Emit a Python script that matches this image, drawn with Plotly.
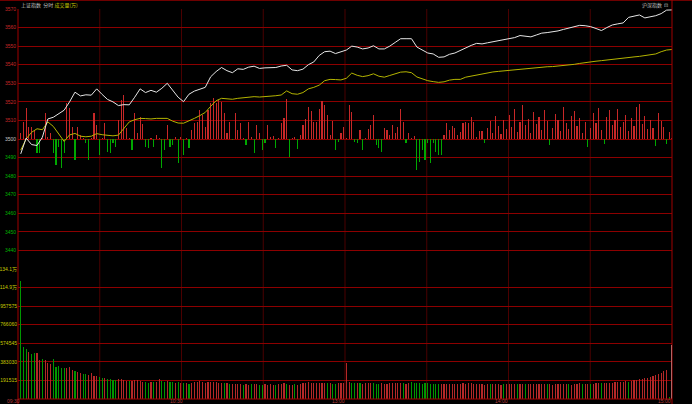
import plotly.graph_objects as go

# ---------------- data ----------------
line_minutes = list(range(0, 241, 2))
index_price = [
    3492, 3500.5, 3497, 3496.5, 3501, 3510.8, 3511.7, 3513.4, 3515.5, 3520,
    3525.2, 3523.2, 3523.8, 3523.6, 3527, 3524, 3521.3, 3520, 3518, 3518.5,
    3518.4, 3522.5, 3527, 3525, 3526.2, 3525.2, 3527.3, 3530, 3526.5, 3522.5,
    3520.1, 3524.1, 3525.8, 3527, 3527.8, 3533.5, 3536.3, 3538.5, 3536.8, 3535.7,
    3537.8, 3537.5, 3538.7, 3539.2, 3538, 3538.3, 3538.3, 3538.5, 3539.3, 3539.7,
    3537.2, 3536.8, 3537.6, 3540, 3541.5, 3545, 3547, 3547.3, 3546, 3546.8,
    3547.9, 3550, 3549.5, 3548.5, 3549, 3550.2, 3548.5, 3548.5, 3550, 3552,
    3554, 3554, 3554, 3549.5, 3548, 3546.3, 3545.8, 3544, 3544.2, 3545.6,
    3546.3, 3547.7, 3549.4, 3550.4, 3551.5, 3551.2, 3551.8, 3552.3, 3553, 3553.4,
    3554, 3554.6, 3555.7, 3555.5, 3555, 3556, 3557, 3557.3, 3557.6, 3558.2,
    3559, 3559.8, 3560.6, 3561.2, 3561, 3560.5, 3559.5, 3558.4, 3560, 3561.4,
    3562, 3562.5, 3565.5, 3566.3, 3566.8, 3565.2, 3565.6, 3566.4, 3567.5, 3569.4,
    3569.5,
]
lead_price = [
    3494, 3500, 3503.6, 3505.5, 3505, 3509.2, 3506.8, 3502.5, 3498.7, 3502.2,
    3503, 3501.5, 3501.2, 3501.5, 3502.9, 3502.3, 3502.2, 3501.7, 3502.1, 3505.5,
    3509.2, 3510.4, 3511.1, 3511, 3510.8, 3511.1, 3511.1, 3511.1, 3509.6, 3508.6,
    3508.5, 3509.6, 3511.1, 3512.6, 3514.3, 3517.6, 3520.6, 3521.9, 3521.6, 3521.4,
    3521.9, 3522.2, 3522.3, 3522.8, 3522.6, 3522.7, 3523, 3523.3, 3523.7, 3525.9,
    3524.4, 3524.1, 3525, 3527, 3527.8, 3529, 3531.4, 3532.1, 3532, 3531.8,
    3532.7, 3535.5, 3534.3, 3533.6, 3534.1, 3535.1, 3533.8, 3533.3, 3534.2, 3535.2,
    3536, 3536.2, 3535.7, 3533.4, 3532.4, 3531.4, 3530.9, 3530.5, 3530.8, 3531.7,
    3532.1, 3532.1, 3533.3, 3533.9, 3534.7, 3535.1, 3535.6, 3536.1, 3536.4, 3536.7,
    3537, 3537.3, 3537.6, 3537.9, 3538.2, 3538.5, 3538.8, 3538.9, 3539, 3539.2,
    3539.4, 3539.8, 3540.2, 3540.7, 3541.2, 3541.6, 3541.9, 3542.2, 3542.6, 3542.9,
    3543.3, 3543.6, 3543.9, 3544.2, 3544.5, 3544.8, 3545.1, 3545.8, 3547, 3547.9,
    3548.2,
]

bar_minutes = list(range(241))
strength = [
    3.1, 9.3, 16.6, 6.6, 6.6, 4.8, -7.5, -7.5, 0.5, 13.8,
    1.2, 3.1, -7.5, -14, -4.1, -15.8, -7.7, 19.2, 16.5, 6.6,
    -11.3, 6.6, 2.2, 0.5, -2.3, -11.3, 0.3, 13.8, 7.5, -8.6,
    0.4, 8.5, -6.8, -7.7, -2.3, -4.1, 10.2, 21, 23.7, 5.8,
    0.5, -5.9, 13.8, 3, 12, 8.1, -4.1, -5, 0.3, -4.1,
    2.2, 0.4, -15.8, -5.9, 7.5, -4.1, -3.2, 0.9, -13.1, 1.2,
    -8.6, 0.3, -5, 4.8, 8.5, 9.3, 15.6, 12.9, 6.6, 15.6,
    19.2, 21.9, 19.2, 21, 20.1, 13.8, 3.1, 9.3, -0.5, 13.8,
    4.8, 8.5, 0.4, -3.2, 9.3, 1.2, -7.4, 7.5, 3.1, -5.9,
    -2, 7.5, 1.2, 1.6, -5, 0.3, 8.8, 11.1, 21.5, -9.5,
    0.4, 0.9, -5.5, 2.2, 7.5, 10.6, 17.1, 15.2, 9.3, 9.3,
    16, 20.5, 18.3, 12.9, 2.2, 9.9, -5.9, -1.5, 3.1, 6.6,
    0.3, 18.3, 14.7, -1.5, -2, 4.8, -5.9, 0.3, 5.2, 7.5,
    12.9, -3.2, -5, -6.8, 5.8, 4.8, 2.2, 7.5, 3.1, 6.6,
    16, 9.3, -2, 3.1, 0.3, 1.6, -16.7, -12.2, -5.9, -11.3,
    -2.3, -13.1, -2.3, -6.8, -8.6, -8.6, 2.2, 8.5, 4.8, 7,
    5.8, 2.2, 3.9, 8.8, 9.3, 8.8, 12, 9.3, 1.2, 4.5,
    4.5, -2.0, 6.0, 9.5, 3.2, 12.5, 7.0, 2.5, 10.0, 5.5,
    13.0, 6.5, 16.0, 4.0, 9.0, 18.5, 7.5, 11.0, 3.5, 14.5,
    8.0, 12.0, 5.0, 15.5, 9.5, -3.0, 6.0, 13.5, 10.5, 4.5,
    17.0, 8.5, 5.5, 12.5, 15.0, 7.0, 11.5, 3.0, 9.0, -4.5,
    6.0, 14.0, 8.5, 16.5, 5.0, -2.5, 12.0, 15.5, 7.5, 10.0,
    16.0, 6.5, 9.0, 13.0, 4.5, 11.5, 7.0, 17.5, 19.0, 8.0,
    12.5, 5.5, 10.0, 6.0, -3.5, 14.0, 9.5, 6.5, -2.5, 4.0,
    0.3,
]
# volume in thousands; negative = down minute (green)
volume_k = [
    -1220, -536, -515, 488, -464, -475, 478, 402, -412, 402,
    368, 361, -410, -335, -340, -315, -318, 318, 325, 300,
    -290, 280, 270, -260, -255, 250, 265, 240, 235, -230,
    -220, 215, -210, -205, -200, -198, 205, 210, 195, 190,
    -185, 190, 200, 195, 185, 180, -175, -170, 178, -172,
    175, 205, -190, -180, 185, -178, -172, 170, -175, 168,
    -160, 165, -158, 170, 175, 180, 190, 175, 168, 172,
    180, 175, 172, 168, 165, -160, 162, -150, 158, 155,
    152, 150, -145, 155, 148, -150, 152, 150, -146, -148,
    150, 148, 152, 145, -148, 150, 155, 165, -150, 148,
    145, -150, 148, 152, 160, 168, 172, 165, 160, 165,
    170, 168, 165, -160, 162, -158, -155, 160, 162, 165,
    371, 175, -168, -165, 170, -160, 155, 162, 165, 168,
    -160, -158, -155, 160, 158, 155, 162, 165, 160, 170,
    168, -160, 158, 160, -175, -170, -165, -160, -158, -162,
    -160, -158, -155, -150, -152, 150, 155, 158, 152, 150,
    152, 155, 158, 160, 158, 162, 160, 155, 150, 152,
    150, 148, 152, -150, 155, 152, 150, 148, -150, 152,
    150, 155, 158, -150, 152, 155, -150, 152, 155, 150,
    152, 150, 155, 152, -150, 150, 148, 152, 155, 150,
    152, 155, -150, 148, 155, 158, 160, -152, 150, 155,
    -150, 158, 160, 165, -160, 162, 165, 168, 170, 172,
    175, 178, 180, 185, -180, 190, 195, 200, 205, 210,
    215, 220, 230, 240, 250, 260, 270, 285, 300, -25,
    557,
]

price_ticks = [3570, 3560, 3550, 3540, 3530, 3520, 3510, 3500, 3490, 3480, 3470, 3460, 3450, 3440]
price_labels = ["3570", "3560", "3550", "3540", "3530", "3520", "3510", "3500",
                "3490", "3480", "3470", "3460", "3450", "3440"]
pct_labels = ["1.97%", "1.69%", "1.41%", "1.12%", "0.84%", "0.56%", "0.28%", "0.00%",
              "0.28%", "0.56%", "0.84%", "1.12%", "1.41%", "1.69%"]
vol_ticks = [1340605, 1149090, 957575, 766060, 574545, 383030, 191515]
vol_labels = ["134.1万", "114.9万", "957575", "766060", "574545", "383030", "191515"]
time_ticks = [0, 60, 120, 180, 240]
time_labels = ["09:30", "10:30", "13:00", "14:00", "15:00"]

# ---------------- styling ----------------
RED = "#c82828"
GREEN = "#00a800"
GRID = "#8c0000"
FONT = "Liberation Sans, Noto Sans CJK SC, sans-serif"
CJK = "Noto Sans CJK SC, sans-serif"
BASE = 3500


def colored(labels, ticks):
    out = []
    for lab, t in zip(labels, ticks):
        c = "#c8c8c8" if t == BASE else (RED if t > BASE else "#00b400")
        out.append(f'<span style="color:{c}">{lab}</span>')
    return out


fig = go.Figure()

strength_colors = [RED if v >= 0 else GREEN for v in strength]
fig.add_trace(go.Bar(x=bar_minutes, y=strength, base=BASE, width=0.42,
                     marker=dict(color=strength_colors, line=dict(width=0)),
                     yaxis="y", hoverinfo="skip"))

vol_colors = []
for i, v in enumerate(volume_k):
    if i == len(volume_k) - 1:
        vol_colors.append("#c8c8c8")
    else:
        vol_colors.append("#b42828" if v >= 0 else "#009600")
fig.add_trace(go.Bar(x=bar_minutes, y=[abs(v) * 1000 for v in volume_k], width=0.42,
                     marker=dict(color=vol_colors, line=dict(width=0)),
                     yaxis="y3", hoverinfo="skip"))

fig.add_trace(go.Scatter(x=line_minutes, y=lead_price, mode="lines",
                         line=dict(color="#b4b400", width=1), yaxis="y", hoverinfo="skip"))
fig.add_trace(go.Scatter(x=line_minutes, y=index_price, mode="lines",
                         line=dict(color="#e6e6e6", width=1), yaxis="y", hoverinfo="skip"))

fig.update_layout(
    template="none",
    width=692, height=404,
    margin=dict(l=18, r=20, t=9, b=5, pad=0),
    paper_bgcolor="black", plot_bgcolor="black",
    showlegend=False, barmode="overlay", bargap=0,
    xaxis=dict(range=[-1, 240], showgrid=False, zeroline=False, showline=False,
               showticklabels=False, ticks="", anchor="y3", fixedrange=True,
               automargin=False),
    yaxis=dict(domain=[1 / 3, 1], range=[3430, 3570], tickmode="array",
               tickvals=price_ticks, ticktext=colored(price_labels, price_ticks),
               showgrid=True, gridcolor=GRID, gridwidth=1, zeroline=False,
               showline=False, automargin=False,
               ticks="", ticklabelstandoff=1, tickfont=dict(size=5, family=FONT)),
    yaxis2=dict(overlaying="y", side="right", range=[3430, 3570], tickmode="array",
                tickvals=price_ticks, ticktext=colored(pct_labels, price_ticks),
                showgrid=False, zeroline=False, showline=False, automargin=False,
                ticks="", ticklabelstandoff=3, tickfont=dict(size=5, family=FONT)),
    yaxis3=dict(domain=[0, 1 / 3], range=[0, 1340605], tickmode="array",
                tickvals=vol_ticks, ticktext=vol_labels, showgrid=True,
                gridcolor=GRID, gridwidth=1, zeroline=False, showline=False,
                automargin=False, ticks="",
                ticklabelstandoff=0, tickfont=dict(size=5, family=FONT, color="#c8c800")),
    yaxis4=dict(overlaying="y3", side="right", range=[0, 1340605], tickmode="array",
                tickvals=vol_ticks, ticktext=vol_labels, showgrid=False,
                zeroline=False, showline=False, automargin=False, ticks="",
                ticklabelstandoff=3,
                tickfont=dict(size=5, family=FONT, color="#c8c800")),
)

# frame / grid lines (layout decoration)
shapes = []
top_px = 1 + 9 / 390
bot_px = -5 / 390
shapes.append(dict(type="line", xref="paper", yref="paper", x0=-18 / 654, x1=1 + 20 / 654,
                   y0=1 + 8.5 / 390, y1=1 + 8.5 / 390, line=dict(color="#6e0000", width=1)))
shapes.append(dict(type="line", xref="paper", yref="paper", x0=0, x1=0,
                   y0=bot_px, y1=1, line=dict(color="#a00000", width=1)))
shapes.append(dict(type="line", xref="paper", yref="paper", x0=1, x1=1,
                   y0=bot_px, y1=top_px, line=dict(color="#a00000", width=1)))
shapes.append(dict(type="line", xref="paper", yref="paper", x0=0, x1=1,
                   y0=0, y1=0, line=dict(color="#a00000", width=1)))
for k in range(1, 8):
    shapes.append(dict(type="line", xref="paper", yref="paper", x0=k / 8, x1=k / 8,
                       y0=0, y1=1, line=dict(color="#4a0000", width=1), layer="below"))
fig.update_layout(shapes=shapes)

ann = []
for t, lab in zip(time_ticks, time_labels):
    ann.append(dict(x=t, y=-1.5 / 390, xref="x", yref="paper", text=lab, showarrow=False,
                    xanchor="right", yanchor="middle", xshift=1,
                    font=dict(size=5, color="#b43c3c", family=FONT)))
ann.append(dict(x=0, y=1 + 4.5 / 390, xref="paper", yref="paper",
                text='<span style="color:#c0c0c0">上证指数</span>  '
                     '<span style="color:#c0c0c0">分时</span> '
                     '<span style="color:#c8c800">成交量(万)</span>',
                showarrow=False, xanchor="left", yanchor="middle", xshift=1,
                font=dict(size=5, family=CJK)))
ann.append(dict(x=1, y=1 + 4.5 / 390, xref="paper", yref="paper", text="沪深指数  ⊡",
                showarrow=False, xanchor="right", yanchor="middle", xshift=-2,
                font=dict(size=5, color="#c0c0c0", family=CJK)))
fig.update_layout(annotations=ann)

fig.write_html("out.html",
               config={"displayModeBar": False, "staticPlot": True},
               post_script="document.body.style.margin='0px';"
                           "document.body.style.overflow='hidden';")
